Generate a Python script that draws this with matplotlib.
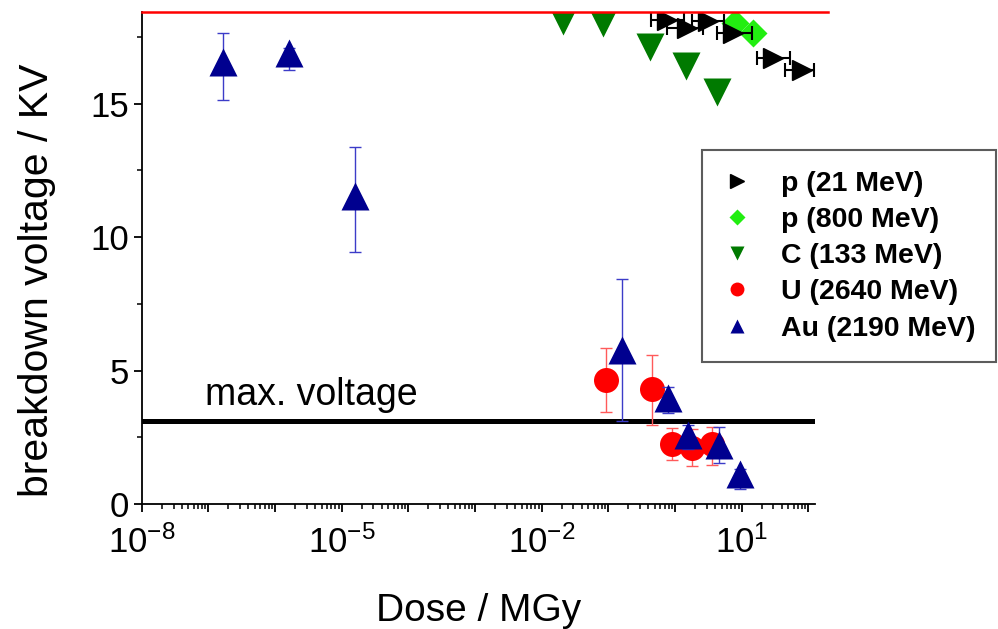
import numpy as np
import matplotlib
matplotlib.use('Agg')
from matplotlib import pyplot as plt
from matplotlib.lines import Line2D
from matplotlib.ticker import LogLocator, FuncFormatter, MultipleLocator

plt.rcParams['font.family'] = ['Liberation Sans', 'DejaVu Sans']
plt.rcParams['mathtext.fontset'] = 'custom'
plt.rcParams['mathtext.rm'] = 'Liberation Sans'
plt.rcParams['mathtext.it'] = 'Liberation Sans:italic'
plt.rcParams['mathtext.bf'] = 'Liberation Sans:bold'

# --- data (dose in MGy, breakdown voltage in kV) ---
p21_dose = [0.76, 1.5, 3.1, 7.4, 29.5, 79.0]
p21_volt = [18.13, 17.83, 18.09, 17.64, 16.70, 16.25]
p21_dose_lo = [0.43, 0.75, 1.8, 4.2, 17.0, 45.0]
p21_dose_hi = [1.38, 2.6, 5.5, 14.5, 54.0, 120.0]

p800_dose = [7.9, 14.8]
p800_volt = [18.00, 17.64]

c_dose = [0.021, 0.083, 0.42, 1.48, 4.2]
c_volt = [18.10, 18.00, 17.13, 16.40, 15.43]

u_dose = [0.091, 0.45, 0.89, 1.78, 3.55]
u_volt = [4.64, 4.31, 2.25, 2.10, 2.25]
u_lo = [3.45, 2.96, 1.65, 1.42, 1.46]
u_hi = [5.84, 5.58, 2.85, 2.80, 2.88]

au_dose = [1.64e-7, 1.6e-6, 1.57e-5, 0.158, 0.78, 1.55, 4.5, 9.3]
au_volt = [16.54, 16.90, 11.55, 5.77, 3.97, 2.58, 2.21, 1.12]
au_lo = [15.13, 16.25, 9.44, 3.10, 3.40, 2.05, 1.53, 0.56]
au_hi = [17.63, 17.10, 13.38, 8.43, 4.40, 2.95, 2.90, 1.30]

max_voltage = 3.11
y_top = 18.43

labels = ['p (21 MeV)', 'p (800 MeV)', 'C (133 MeV)', 'U (2640 MeV)', 'Au (2190 MeV)']

fig = plt.figure(figsize=(9.98, 6.29), dpi=100)
W, H = 998.0, 629.0
ax = fig.add_axes([141.7 / W, 1 - 504 / H, (815 - 141.7) / W, (504 - 12) / H])
ax.set_xscale('log')
ax.set_xlim(1e-8, 10 ** 2.1)
ax.set_ylim(0, y_top)

# reference lines
ax.plot([0, 1], [max_voltage, max_voltage], transform=ax.get_yaxis_transform(),
        color='k', lw=3.6, solid_capstyle='round', zorder=2)
ax.plot([0, 1.02], [1, 1], transform=ax.transAxes, color='red', lw=1.8,
        clip_on=False, zorder=6)
ax.text(8.9e-8, 3.71, 'max. voltage', fontsize=27, va='baseline', ha='left')

# C (133 MeV)
ax.plot(c_dose, c_volt, 'v', color='#007a00', ms=20, mec='none', zorder=3)

# p (800 MeV)
ax.plot(p800_dose, p800_volt, 'D', color='#22ee11', ms=14, mec='none', zorder=4)

# p (21 MeV) with horizontal error bars
p21_d = np.array(p21_dose)
xerr = [p21_d - np.array(p21_dose_lo), np.array(p21_dose_hi) - p21_d]
ax.errorbar(p21_dose, p21_volt, xerr=xerr, fmt='>', color='k', ms=14,
            elinewidth=1.5, capsize=5, capthick=1.5, zorder=5)

# U (2640 MeV)
uv = np.array(u_volt)
ax.errorbar(u_dose, u_volt, yerr=[uv - np.array(u_lo), np.array(u_hi) - uv],
            fmt='o', color='#ff0000', ecolor='#ff5a5a', ms=18, mec='none',
            elinewidth=1.0, capsize=4, capthick=1.0, zorder=4)

# Au (2190 MeV)
av = np.array(au_volt)
ax.errorbar(au_dose, au_volt, yerr=[av - np.array(au_lo), np.array(au_hi) - av],
            fmt='^', color='#00008f', ecolor='#3c3cc8', ms=20, mec='none',
            elinewidth=1.0, capsize=4, capthick=1.0, zorder=5)

# axes styling
for s in ['top', 'right']:
    ax.spines[s].set_visible(False)
for s in ['left', 'bottom']:
    ax.spines[s].set_linewidth(1.3)

ax.xaxis.set_major_locator(LogLocator(base=10, numticks=30))
ax.xaxis.set_minor_locator(LogLocator(base=10, subs=np.arange(2, 10), numticks=300))
shown = {-8, -5, -2, 1}
def fmt_x(v, pos):
    e = int(round(np.log10(v)))
    return r'$\mathregular{10^{%d}}$' % e if e in shown else ''
ax.xaxis.set_major_formatter(FuncFormatter(fmt_x))
ax.xaxis.set_minor_formatter(FuncFormatter(lambda v, p: ''))
ax.yaxis.set_major_locator(MultipleLocator(5))
ax.yaxis.set_minor_locator(MultipleLocator(2.5))

ax.tick_params(axis='both', which='major', direction='out', length=6, width=1.3,
               labelsize=25)
ax.tick_params(axis='both', which='minor', direction='out', length=3.5, width=1.1)
ax.tick_params(axis='x', which='major', pad=9)
ax.tick_params(axis='y', which='major', pad=3)

ax.set_xlabel('Dose / MGy', fontsize=28, labelpad=24)
ax.set_ylabel('breakdown voltage / KV', fontsize=29.5)
ax.yaxis.set_label_coords(-0.128, 0.455)

handles = [
    Line2D([], [], ls='none', marker='>', color='k', ms=10),
    Line2D([], [], ls='none', marker='D', color='#22ee11', mec='none', ms=8),
    Line2D([], [], ls='none', marker='v', color='#007a00', mec='none', ms=10),
    Line2D([], [], ls='none', marker='o', color='#ff0000', mec='none', ms=10),
    Line2D([], [], ls='none', marker='^', color='#00008f', mec='none', ms=10),
]
leg = fig.legend(handles, labels, loc='upper left', bbox_to_anchor=(702 / W, 1 - 150 / H),
                 bbox_transform=fig.transFigure, frameon=True, fancybox=False,
                 prop={'weight': 'bold', 'size': 20.5}, borderpad=0.72,
                 handlelength=1.0, handletextpad=1.05, labelspacing=0.36,
                 borderaxespad=0)
leg.get_frame().set_edgecolor('#333333')
leg.get_frame().set_linewidth(1.5)

fig.savefig('out.png', dpi=100)
